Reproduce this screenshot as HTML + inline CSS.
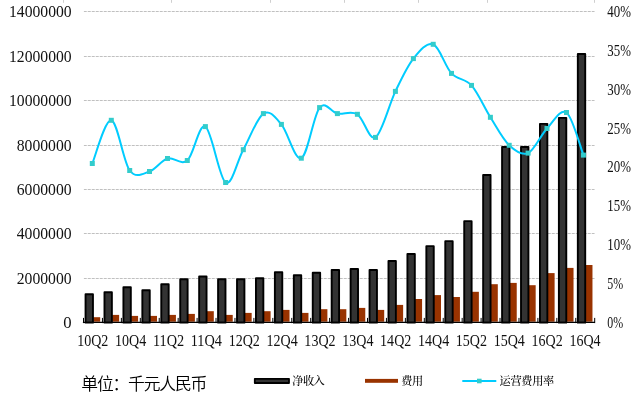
<!DOCTYPE html>
<html lang="zh"><head><meta charset="utf-8"><title>chart</title>
<style>html,body{margin:0;padding:0;background:#fff}body{width:638px;height:407px;overflow:hidden}svg{display:block}.num{font-family:"Liberation Serif", "Noto Serif CJK SC", serif;font-size:16.4px;fill:#111}.unit{font-family:"Liberation Sans", "Noto Sans CJK SC", sans-serif;font-size:16.8px;font-weight:350;fill:#000}.leg{font-family:"Liberation Serif", "Noto Serif CJK SC", serif;font-size:11.2px;font-weight:500;fill:#000}</style></head><body>
<svg width="638" height="407" viewBox="0 0 638 407">
<rect width="638" height="407" fill="#fff"/>
<line x1="63.5" y1="0" x2="63.5" y2="2.8" stroke="#cfcfcf" stroke-width="1"/>
<line x1="171.5" y1="0" x2="171.5" y2="2.8" stroke="#cfcfcf" stroke-width="1"/>
<line x1="270.5" y1="0" x2="270.5" y2="2.8" stroke="#cfcfcf" stroke-width="1"/>
<line x1="344.5" y1="0" x2="344.5" y2="2.8" stroke="#cfcfcf" stroke-width="1"/>
<line x1="418.5" y1="0" x2="418.5" y2="2.8" stroke="#cfcfcf" stroke-width="1"/>
<line x1="487.5" y1="0" x2="487.5" y2="2.8" stroke="#cfcfcf" stroke-width="1"/>
<line x1="594.5" y1="0" x2="594.5" y2="2.8" stroke="#cfcfcf" stroke-width="1"/>
<line x1="84" y1="278.50" x2="594.5" y2="278.50" stroke="#f4f4f4" stroke-width="1"/>
<line x1="83.9" y1="278.50" x2="594.5" y2="278.50" stroke="#c0c0c0" stroke-width="1" stroke-dasharray="2.8 1.2"/>
<line x1="84" y1="233.50" x2="594.5" y2="233.50" stroke="#f4f4f4" stroke-width="1"/>
<line x1="83.9" y1="233.50" x2="594.5" y2="233.50" stroke="#c0c0c0" stroke-width="1" stroke-dasharray="2.8 1.2"/>
<line x1="84" y1="189.50" x2="594.5" y2="189.50" stroke="#f4f4f4" stroke-width="1"/>
<line x1="83.9" y1="189.50" x2="594.5" y2="189.50" stroke="#c0c0c0" stroke-width="1" stroke-dasharray="2.8 1.2"/>
<line x1="84" y1="145.50" x2="594.5" y2="145.50" stroke="#f4f4f4" stroke-width="1"/>
<line x1="83.9" y1="145.50" x2="594.5" y2="145.50" stroke="#c0c0c0" stroke-width="1" stroke-dasharray="2.8 1.2"/>
<line x1="84" y1="100.50" x2="594.5" y2="100.50" stroke="#f4f4f4" stroke-width="1"/>
<line x1="83.9" y1="100.50" x2="594.5" y2="100.50" stroke="#c0c0c0" stroke-width="1" stroke-dasharray="2.8 1.2"/>
<line x1="84" y1="56.50" x2="594.5" y2="56.50" stroke="#f4f4f4" stroke-width="1"/>
<line x1="83.9" y1="56.50" x2="594.5" y2="56.50" stroke="#c0c0c0" stroke-width="1" stroke-dasharray="2.8 1.2"/>
<line x1="84" y1="11.50" x2="594.5" y2="11.50" stroke="#f4f4f4" stroke-width="1"/>
<line x1="83.9" y1="11.50" x2="594.5" y2="11.50" stroke="#c0c0c0" stroke-width="1" stroke-dasharray="2.8 1.2"/>
<rect x="93.20" y="317.20" width="7.0" height="4.50" fill="#993300"/>
<rect x="85.55" y="294.30" width="7.4" height="28.35" fill="#333" stroke="#000" stroke-width="1.9" stroke-linejoin="round"/>
<rect x="112.13" y="314.90" width="7.0" height="6.80" fill="#993300"/>
<rect x="104.48" y="292.30" width="7.4" height="30.35" fill="#333" stroke="#000" stroke-width="1.9" stroke-linejoin="round"/>
<rect x="131.07" y="315.90" width="7.0" height="5.80" fill="#993300"/>
<rect x="123.42" y="287.25" width="7.4" height="35.40" fill="#333" stroke="#000" stroke-width="1.9" stroke-linejoin="round"/>
<rect x="150.00" y="315.90" width="7.0" height="5.80" fill="#993300"/>
<rect x="142.35" y="290.25" width="7.4" height="32.40" fill="#333" stroke="#000" stroke-width="1.9" stroke-linejoin="round"/>
<rect x="168.93" y="314.90" width="7.0" height="6.80" fill="#993300"/>
<rect x="161.28" y="284.25" width="7.4" height="38.40" fill="#333" stroke="#000" stroke-width="1.9" stroke-linejoin="round"/>
<rect x="187.87" y="313.90" width="7.0" height="7.80" fill="#993300"/>
<rect x="180.22" y="279.25" width="7.4" height="43.40" fill="#333" stroke="#000" stroke-width="1.9" stroke-linejoin="round"/>
<rect x="206.80" y="311.20" width="7.0" height="10.50" fill="#993300"/>
<rect x="199.15" y="276.45" width="7.4" height="46.20" fill="#333" stroke="#000" stroke-width="1.9" stroke-linejoin="round"/>
<rect x="225.73" y="314.90" width="7.0" height="6.80" fill="#993300"/>
<rect x="218.08" y="279.25" width="7.4" height="43.40" fill="#333" stroke="#000" stroke-width="1.9" stroke-linejoin="round"/>
<rect x="244.67" y="312.90" width="7.0" height="8.80" fill="#993300"/>
<rect x="237.02" y="279.25" width="7.4" height="43.40" fill="#333" stroke="#000" stroke-width="1.9" stroke-linejoin="round"/>
<rect x="263.60" y="311.20" width="7.0" height="10.50" fill="#993300"/>
<rect x="255.95" y="278.25" width="7.4" height="44.40" fill="#333" stroke="#000" stroke-width="1.9" stroke-linejoin="round"/>
<rect x="282.53" y="309.90" width="7.0" height="11.80" fill="#993300"/>
<rect x="274.88" y="272.25" width="7.4" height="50.40" fill="#333" stroke="#000" stroke-width="1.9" stroke-linejoin="round"/>
<rect x="301.47" y="312.90" width="7.0" height="8.80" fill="#993300"/>
<rect x="293.82" y="275.25" width="7.4" height="47.40" fill="#333" stroke="#000" stroke-width="1.9" stroke-linejoin="round"/>
<rect x="320.40" y="309.20" width="7.0" height="12.50" fill="#993300"/>
<rect x="312.75" y="272.75" width="7.4" height="49.90" fill="#333" stroke="#000" stroke-width="1.9" stroke-linejoin="round"/>
<rect x="339.33" y="309.20" width="7.0" height="12.50" fill="#993300"/>
<rect x="331.68" y="269.95" width="7.4" height="52.70" fill="#333" stroke="#000" stroke-width="1.9" stroke-linejoin="round"/>
<rect x="358.27" y="307.90" width="7.0" height="13.80" fill="#993300"/>
<rect x="350.62" y="268.95" width="7.4" height="53.70" fill="#333" stroke="#000" stroke-width="1.9" stroke-linejoin="round"/>
<rect x="377.20" y="309.90" width="7.0" height="11.80" fill="#993300"/>
<rect x="369.55" y="269.95" width="7.4" height="52.70" fill="#333" stroke="#000" stroke-width="1.9" stroke-linejoin="round"/>
<rect x="396.13" y="304.90" width="7.0" height="16.80" fill="#993300"/>
<rect x="388.48" y="260.95" width="7.4" height="61.70" fill="#333" stroke="#000" stroke-width="1.9" stroke-linejoin="round"/>
<rect x="415.07" y="299.00" width="7.0" height="22.70" fill="#993300"/>
<rect x="407.42" y="254.05" width="7.4" height="68.60" fill="#333" stroke="#000" stroke-width="1.9" stroke-linejoin="round"/>
<rect x="434.00" y="295.10" width="7.0" height="26.60" fill="#993300"/>
<rect x="426.35" y="246.15" width="7.4" height="76.50" fill="#333" stroke="#000" stroke-width="1.9" stroke-linejoin="round"/>
<rect x="452.93" y="297.00" width="7.0" height="24.70" fill="#993300"/>
<rect x="445.28" y="241.15" width="7.4" height="81.50" fill="#333" stroke="#000" stroke-width="1.9" stroke-linejoin="round"/>
<rect x="471.87" y="291.80" width="7.0" height="29.90" fill="#993300"/>
<rect x="464.22" y="221.15" width="7.4" height="101.50" fill="#333" stroke="#000" stroke-width="1.9" stroke-linejoin="round"/>
<rect x="490.80" y="284.20" width="7.0" height="37.50" fill="#993300"/>
<rect x="483.15" y="174.95" width="7.4" height="147.70" fill="#333" stroke="#000" stroke-width="1.9" stroke-linejoin="round"/>
<rect x="509.73" y="282.90" width="7.0" height="38.80" fill="#993300"/>
<rect x="502.08" y="146.95" width="7.4" height="175.70" fill="#333" stroke="#000" stroke-width="1.9" stroke-linejoin="round"/>
<rect x="528.67" y="285.20" width="7.0" height="36.50" fill="#993300"/>
<rect x="521.02" y="146.95" width="7.4" height="175.70" fill="#333" stroke="#000" stroke-width="1.9" stroke-linejoin="round"/>
<rect x="547.60" y="273.10" width="7.0" height="48.60" fill="#993300"/>
<rect x="539.95" y="123.85" width="7.4" height="198.80" fill="#333" stroke="#000" stroke-width="1.9" stroke-linejoin="round"/>
<rect x="566.53" y="267.90" width="7.0" height="53.80" fill="#993300"/>
<rect x="558.88" y="117.85" width="7.4" height="204.80" fill="#333" stroke="#000" stroke-width="1.9" stroke-linejoin="round"/>
<rect x="585.47" y="265.00" width="7.0" height="56.70" fill="#993300"/>
<rect x="577.82" y="53.95" width="7.4" height="268.70" fill="#333" stroke="#000" stroke-width="1.9" stroke-linejoin="round"/>
<line x1="82.9" y1="322.40" x2="595.0" y2="322.40" stroke="#000" stroke-width="1.3"/>
<line x1="83.50" y1="317.90" x2="83.50" y2="323.10" stroke="#000" stroke-width="1"/>
<line x1="102.43" y1="317.90" x2="102.43" y2="323.10" stroke="#000" stroke-width="1"/>
<line x1="121.37" y1="317.90" x2="121.37" y2="323.10" stroke="#000" stroke-width="1"/>
<line x1="140.30" y1="317.90" x2="140.30" y2="323.10" stroke="#000" stroke-width="1"/>
<line x1="159.23" y1="317.90" x2="159.23" y2="323.10" stroke="#000" stroke-width="1"/>
<line x1="178.17" y1="317.90" x2="178.17" y2="323.10" stroke="#000" stroke-width="1"/>
<line x1="197.10" y1="317.90" x2="197.10" y2="323.10" stroke="#000" stroke-width="1"/>
<line x1="216.03" y1="317.90" x2="216.03" y2="323.10" stroke="#000" stroke-width="1"/>
<line x1="234.97" y1="317.90" x2="234.97" y2="323.10" stroke="#000" stroke-width="1"/>
<line x1="253.90" y1="317.90" x2="253.90" y2="323.10" stroke="#000" stroke-width="1"/>
<line x1="272.83" y1="317.90" x2="272.83" y2="323.10" stroke="#000" stroke-width="1"/>
<line x1="291.77" y1="317.90" x2="291.77" y2="323.10" stroke="#000" stroke-width="1"/>
<line x1="310.70" y1="317.90" x2="310.70" y2="323.10" stroke="#000" stroke-width="1"/>
<line x1="329.63" y1="317.90" x2="329.63" y2="323.10" stroke="#000" stroke-width="1"/>
<line x1="348.57" y1="317.90" x2="348.57" y2="323.10" stroke="#000" stroke-width="1"/>
<line x1="367.50" y1="317.90" x2="367.50" y2="323.10" stroke="#000" stroke-width="1"/>
<line x1="386.43" y1="317.90" x2="386.43" y2="323.10" stroke="#000" stroke-width="1"/>
<line x1="405.37" y1="317.90" x2="405.37" y2="323.10" stroke="#000" stroke-width="1"/>
<line x1="424.30" y1="317.90" x2="424.30" y2="323.10" stroke="#000" stroke-width="1"/>
<line x1="443.23" y1="317.90" x2="443.23" y2="323.10" stroke="#000" stroke-width="1"/>
<line x1="462.17" y1="317.90" x2="462.17" y2="323.10" stroke="#000" stroke-width="1"/>
<line x1="481.10" y1="317.90" x2="481.10" y2="323.10" stroke="#000" stroke-width="1"/>
<line x1="500.03" y1="317.90" x2="500.03" y2="323.10" stroke="#000" stroke-width="1"/>
<line x1="518.97" y1="317.90" x2="518.97" y2="323.10" stroke="#000" stroke-width="1"/>
<line x1="537.90" y1="317.90" x2="537.90" y2="323.10" stroke="#000" stroke-width="1"/>
<line x1="556.83" y1="317.90" x2="556.83" y2="323.10" stroke="#000" stroke-width="1"/>
<line x1="575.77" y1="317.90" x2="575.77" y2="323.10" stroke="#000" stroke-width="1"/>
<line x1="594.70" y1="317.90" x2="594.70" y2="323.10" stroke="#000" stroke-width="1"/>
<path d="M92.30 163.50 C95.47 156.30 105.07 119.13 111.30 120.30 C117.53 121.47 123.33 161.97 129.70 170.50 C136.07 179.03 143.20 173.50 149.50 171.50 C155.80 169.50 161.20 160.33 167.50 158.50 C173.80 156.67 180.98 165.82 187.30 160.50 C193.62 155.18 199.02 122.93 205.40 126.60 C211.78 130.27 219.28 178.65 225.60 182.50 C231.92 186.35 237.00 161.18 243.30 149.70 C249.60 138.22 257.05 117.82 263.40 113.60 C269.75 109.38 275.08 116.97 281.40 124.40 C287.72 131.83 294.93 161.00 301.30 158.20 C307.67 155.40 313.58 115.03 319.60 107.60 C325.62 100.17 331.10 112.48 337.40 113.60 C343.70 114.72 351.05 110.33 357.40 114.30 C363.75 118.27 369.17 141.22 375.50 137.40 C381.83 133.58 389.08 104.53 395.40 91.40 C401.72 78.27 407.10 66.45 413.40 58.60 C419.70 50.75 426.85 41.83 433.20 44.30 C439.55 46.77 445.12 66.55 451.50 73.40 C457.88 80.25 465.02 78.08 471.50 85.40 C477.98 92.72 484.12 107.32 490.40 117.30 C496.68 127.28 502.92 139.33 509.20 145.30 C515.48 151.27 521.80 155.90 528.10 153.10 C534.40 150.30 540.60 135.27 547.00 128.50 C553.40 121.73 560.43 108.07 566.50 112.50 C572.57 116.93 580.58 148.00 583.40 155.10" fill="none" stroke="#00ccff" stroke-width="2" stroke-linejoin="round" stroke-linecap="round"/>
<rect x="89.80" y="161.00" width="5" height="5" fill="#33cccc"/>
<rect x="108.80" y="117.80" width="5" height="5" fill="#33cccc"/>
<rect x="127.20" y="168.00" width="5" height="5" fill="#33cccc"/>
<rect x="147.00" y="169.00" width="5" height="5" fill="#33cccc"/>
<rect x="165.00" y="156.00" width="5" height="5" fill="#33cccc"/>
<rect x="184.80" y="158.00" width="5" height="5" fill="#33cccc"/>
<rect x="202.90" y="124.10" width="5" height="5" fill="#33cccc"/>
<rect x="223.10" y="180.00" width="5" height="5" fill="#33cccc"/>
<rect x="240.80" y="147.20" width="5" height="5" fill="#33cccc"/>
<rect x="260.90" y="111.10" width="5" height="5" fill="#33cccc"/>
<rect x="278.90" y="121.90" width="5" height="5" fill="#33cccc"/>
<rect x="298.80" y="155.70" width="5" height="5" fill="#33cccc"/>
<rect x="317.10" y="105.10" width="5" height="5" fill="#33cccc"/>
<rect x="334.90" y="111.10" width="5" height="5" fill="#33cccc"/>
<rect x="354.90" y="111.80" width="5" height="5" fill="#33cccc"/>
<rect x="373.00" y="134.90" width="5" height="5" fill="#33cccc"/>
<rect x="392.90" y="88.90" width="5" height="5" fill="#33cccc"/>
<rect x="410.90" y="56.10" width="5" height="5" fill="#33cccc"/>
<rect x="430.70" y="41.80" width="5" height="5" fill="#33cccc"/>
<rect x="449.00" y="70.90" width="5" height="5" fill="#33cccc"/>
<rect x="469.00" y="82.90" width="5" height="5" fill="#33cccc"/>
<rect x="487.90" y="114.80" width="5" height="5" fill="#33cccc"/>
<rect x="506.70" y="142.80" width="5" height="5" fill="#33cccc"/>
<rect x="525.60" y="150.60" width="5" height="5" fill="#33cccc"/>
<rect x="544.50" y="126.00" width="5" height="5" fill="#33cccc"/>
<rect x="564.00" y="110.00" width="5" height="5" fill="#33cccc"/>
<rect x="580.90" y="152.60" width="5" height="5" fill="#33cccc"/>
<text class="num" x="71.6" y="328.00" text-anchor="end" textLength="8.35" lengthAdjust="spacingAndGlyphs">0</text>
<text class="num" x="71.6" y="284.10" text-anchor="end" textLength="54.85" lengthAdjust="spacingAndGlyphs">2000000</text>
<text class="num" x="71.6" y="239.10" text-anchor="end" textLength="54.85" lengthAdjust="spacingAndGlyphs">4000000</text>
<text class="num" x="71.6" y="195.10" text-anchor="end" textLength="54.85" lengthAdjust="spacingAndGlyphs">6000000</text>
<text class="num" x="71.6" y="151.10" text-anchor="end" textLength="54.85" lengthAdjust="spacingAndGlyphs">8000000</text>
<text class="num" x="71.6" y="106.10" text-anchor="end" textLength="62.60" lengthAdjust="spacingAndGlyphs">10000000</text>
<text class="num" x="71.6" y="62.10" text-anchor="end" textLength="62.60" lengthAdjust="spacingAndGlyphs">12000000</text>
<text class="num" x="71.6" y="17.10" text-anchor="end" textLength="62.60" lengthAdjust="spacingAndGlyphs">14000000</text>
<text class="num" x="607.3" y="328.00" textLength="15.90" lengthAdjust="spacingAndGlyphs">0%</text>
<text class="num" x="607.3" y="289.11" textLength="15.90" lengthAdjust="spacingAndGlyphs">5%</text>
<text class="num" x="607.3" y="250.22" textLength="23.65" lengthAdjust="spacingAndGlyphs">10%</text>
<text class="num" x="607.3" y="211.34" textLength="23.65" lengthAdjust="spacingAndGlyphs">15%</text>
<text class="num" x="607.3" y="172.45" textLength="23.65" lengthAdjust="spacingAndGlyphs">20%</text>
<text class="num" x="607.3" y="133.56" textLength="23.65" lengthAdjust="spacingAndGlyphs">25%</text>
<text class="num" x="607.3" y="94.67" textLength="23.65" lengthAdjust="spacingAndGlyphs">30%</text>
<text class="num" x="607.3" y="55.79" textLength="23.65" lengthAdjust="spacingAndGlyphs">35%</text>
<text class="num" x="607.3" y="16.90" textLength="23.65" lengthAdjust="spacingAndGlyphs">40%</text>
<text class="num" x="92.77" y="345.5" text-anchor="middle" textLength="31.2" lengthAdjust="spacingAndGlyphs">10Q2</text>
<text class="num" x="130.63" y="345.5" text-anchor="middle" textLength="31.2" lengthAdjust="spacingAndGlyphs">10Q4</text>
<text class="num" x="168.50" y="345.5" text-anchor="middle" textLength="31.2" lengthAdjust="spacingAndGlyphs">11Q2</text>
<text class="num" x="206.37" y="345.5" text-anchor="middle" textLength="31.2" lengthAdjust="spacingAndGlyphs">11Q4</text>
<text class="num" x="244.23" y="345.5" text-anchor="middle" textLength="31.2" lengthAdjust="spacingAndGlyphs">12Q2</text>
<text class="num" x="282.10" y="345.5" text-anchor="middle" textLength="31.2" lengthAdjust="spacingAndGlyphs">12Q4</text>
<text class="num" x="319.97" y="345.5" text-anchor="middle" textLength="31.2" lengthAdjust="spacingAndGlyphs">13Q2</text>
<text class="num" x="357.83" y="345.5" text-anchor="middle" textLength="31.2" lengthAdjust="spacingAndGlyphs">13Q4</text>
<text class="num" x="395.70" y="345.5" text-anchor="middle" textLength="31.2" lengthAdjust="spacingAndGlyphs">14Q2</text>
<text class="num" x="433.57" y="345.5" text-anchor="middle" textLength="31.2" lengthAdjust="spacingAndGlyphs">14Q4</text>
<text class="num" x="471.43" y="345.5" text-anchor="middle" textLength="31.2" lengthAdjust="spacingAndGlyphs">15Q2</text>
<text class="num" x="509.30" y="345.5" text-anchor="middle" textLength="31.2" lengthAdjust="spacingAndGlyphs">15Q4</text>
<text class="num" x="547.17" y="345.5" text-anchor="middle" textLength="31.2" lengthAdjust="spacingAndGlyphs">16Q2</text>
<text class="num" x="585.03" y="345.5" text-anchor="middle" textLength="31.2" lengthAdjust="spacingAndGlyphs">16Q4</text>
<text class="unit" x="81.3" y="390.3" textLength="126" lengthAdjust="spacing">单位：千元人民币</text>
<rect x="254.8" y="378.8" width="34.2" height="4.2" fill="#333" stroke="#000" stroke-width="1.8" stroke-linejoin="round"/>
<text class="leg" x="292.2" y="385.2" textLength="32.6" lengthAdjust="spacing">净收入</text>
<rect x="365" y="378.9" width="33" height="3.9" fill="#993300"/>
<text class="leg" x="401.3" y="385.2" textLength="21.8" lengthAdjust="spacing">费用</text>
<line x1="462.3" y1="381" x2="496.3" y2="381" stroke="#00ccff" stroke-width="2"/>
<rect x="477" y="378.7" width="4.6" height="4.6" fill="#33cccc"/>
<text class="leg" x="499.6" y="385.2" textLength="54.6" lengthAdjust="spacing">运营费用率</text>
</svg></body></html>
